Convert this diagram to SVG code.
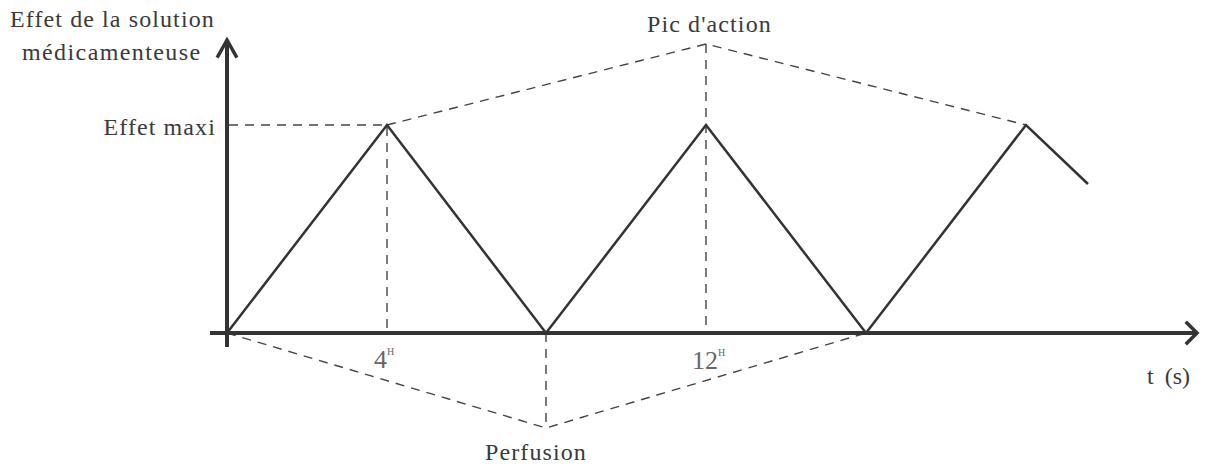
<svg xmlns="http://www.w3.org/2000/svg" width="1230" height="466" viewBox="0 0 1230 466">
<style>
.t{font-family:"Liberation Serif","Times New Roman",serif;font-size:24px;fill:#3a3a3a;letter-spacing:1.1px}
.n{font-family:"Liberation Serif","Times New Roman",serif;font-size:26px;fill:#666}
.axis{stroke:#333;stroke-width:4;fill:none}
.head{stroke:#333;stroke-width:3.5;fill:none;stroke-linecap:square}
.curve{stroke:#333;stroke-width:2.5;fill:none;stroke-linejoin:miter}
.dash{stroke:#444;stroke-width:1.4;fill:none;stroke-dasharray:9 7}
</style>
<rect width="1230" height="466" fill="#fff"/>
<g id="connectors">
<path class="dash" d="M229,125 H387 V333"/>
<path class="dash" d="M387,125 L706,44 L1026,125"/>
<path class="dash" d="M706,44 V333"/>
<path class="dash" d="M227,333 L546,428 L866,333"/>
<path class="dash" d="M546,333 V428"/>
</g>
<g id="axes">
<path class="axis" d="M227,347 V42"/>
<path class="head" d="M218,56 L227,40 L236,56"/>
<path class="axis" d="M210,333 H1196"/>
<path class="head" d="M1187,323 L1197,333 L1187,343"/>
</g>
<g id="curve">
<path class="curve" d="M227,333 L387,125 L546,333 L706,125 L866,333 L1026,125 L1088,184"/>
</g>
<g id="label-y"><text class="t" x="10" y="27">Effet de la solution</text><text class="t" x="22" y="60" style="letter-spacing:1.4px">médicamenteuse</text></g>
<g id="label-max"><text class="t" x="216" y="135" text-anchor="end">Effet maxi</text></g>
<g id="label-pic"><text class="t" x="647" y="32">Pic d'action</text></g>
<g id="label-4"><text class="n" x="374" y="368">4<tspan font-size="10" dy="-13">H</tspan></text></g>
<g id="label-12"><text class="n" x="692" y="369">12<tspan font-size="10" dy="-13">H</tspan></text></g>
<g id="label-perf"><text class="t" x="485" y="460">Perfusion</text></g>
<g id="label-t"><text class="t" x="1147" y="384" style="letter-spacing:0">t <tspan dx="5">(s)</tspan></text></g>
</svg>
